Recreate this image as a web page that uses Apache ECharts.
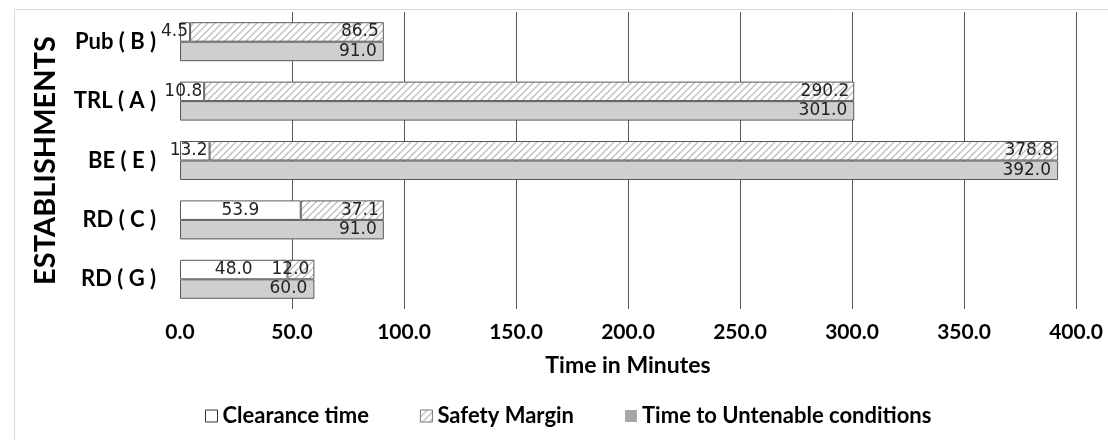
<!DOCTYPE html>
<html>
<head>
<meta charset="utf-8">
<script src="https://cdn.jsdelivr.net/npm/echarts@6/dist/echarts.min.js"></script>
<style>
  html, body { margin: 0; padding: 0; background: #fff; }
  #chart { width: 1108px; height: 440px; }
</style>
</head>
<body>
<div id="chart"></div>
<script>
// categories, top to bottom
const establishments = ['Pub ( B )', 'TRL ( A )', 'BE ( E )', 'RD ( C )', 'RD ( G )']
const clearanceTime = [4.5, 10.8, 13.2, 53.9, 48.0]
const safetyMargin = [86.5, 290.2, 378.8, 37.1, 12.0]
const untenableTime = [91.0, 301.0, 392.0, 91.0, 60.0]
const xTicks = { min: 0, max: 400, step: 50 }

const FONT = 'Lato, "Open Sans", sans-serif'
const LABEL_FONT = '"DejaVu Sans", Verdana, sans-serif'
const EDGE = '#595959'

// diagonal hatch for the safety margin bars
function hatch() {
  const s = 7
  const c = document.createElement('canvas')
  c.width = s
  c.height = s
  const ctx = c.getContext('2d')
  ctx.fillStyle = '#fff'
  ctx.fillRect(0, 0, s, s)
  ctx.strokeStyle = '#bdbdbd'
  ctx.lineWidth = 1.3
  ctx.beginPath()
  ctx.moveTo(-1, s + 1); ctx.lineTo(s + 1, -1)
  ctx.moveTo(-1, 1); ctx.lineTo(1, -1)
  ctx.moveTo(s - 1, s + 1); ctx.lineTo(s + 1, s - 1)
  ctx.stroke()
  return c
}
const hatchFill = { image: hatch(), repeat: 'repeat' }

const fmt = p => Number(p.value).toFixed(1)
const labelBase = {
  show: true,
  formatter: fmt,
  fontFamily: LABEL_FONT,
  fontSize: 17,
  color: '#222'
}

const chart = echarts.init(document.getElementById('chart'), null, { renderer: 'canvas' })

chart.setOption({
  animation: false,
  backgroundColor: '#fff',
  graphic: [{
    type: 'rect',
    left: 12, top: 7,
    shape: { width: 1200, height: 600 },
    style: { fill: 'none', stroke: '#d9d9d9', lineWidth: 1 },
    silent: true
  }],
  grid: { left: 180, right: 32, top: 12, bottom: 131 },
  legend: {
    top: 400,
    left: 200,
    icon: 'rect',
    itemWidth: 12,
    itemHeight: 12,
    itemGap: 51,
    textStyle: { fontFamily: FONT, fontWeight: 'bold', fontSize: 22, color: '#000' },
    data: [
      { name: 'Clearance time', itemStyle: { color: '#fff', borderColor: '#333', borderWidth: 1 } },
      { name: 'Safety Margin', itemStyle: { color: hatchFill, borderColor: '#777', borderWidth: 1 } },
      { name: 'Time to Untenable conditions', itemStyle: { color: '#a6a6a6', borderWidth: 0 } }
    ]
  },
  xAxis: {
    type: 'value',
    min: xTicks.min,
    max: xTicks.max,
    interval: xTicks.step,
    name: 'Time in Minutes',
    nameLocation: 'middle',
    nameGap: 45,
    nameTextStyle: { fontFamily: FONT, fontWeight: 'bold', fontSize: 23, color: '#000' },
    axisLine: { show: false },
    axisTick: { show: false },
    axisLabel: {
      margin: 13,
      formatter: v => v.toFixed(1),
      fontFamily: FONT, fontWeight: 'bold', fontSize: 21, color: '#000'
    },
    splitLine: { show: true, showMinLine: false, lineStyle: { color: EDGE, width: 1 } }
  },
  yAxis: {
    type: 'category',
    inverse: true,
    data: establishments,
    name: 'ESTABLISHMENTS',
    nameLocation: 'middle',
    nameGap: 120,
    nameTextStyle: { fontFamily: FONT, fontWeight: 'bold', fontSize: 29, color: '#000' },
    axisLine: { show: false },
    axisTick: { show: false },
    axisLabel: {
      margin: 24,
      padding: [0, 0, 18, 0],
      fontFamily: FONT, fontWeight: 'bold', fontSize: 22, color: '#000'
    }
  },
  series: [
    {
      name: 'Clearance time',
      type: 'bar',
      stack: 'evac',
      barWidth: 19.5,
      barGap: '0%',
      itemStyle: { color: '#fff', borderColor: EDGE, borderWidth: 1 },
      label: Object.assign({}, labelBase, { position: 'inside' }),
      data: clearanceTime.map(v => v < 20
        ? { value: v, label: { position: 'insideRight', distance: 2 } }
        : v)
    },
    {
      name: 'Safety Margin',
      type: 'bar',
      stack: 'evac',
      barWidth: 19.5,
      barGap: '0%',
      itemStyle: { color: hatchFill, borderColor: EDGE, borderWidth: 1 },
      label: Object.assign({}, labelBase, { position: 'insideRight', distance: 5 }),
      data: safetyMargin
    },
    {
      name: 'Time to Untenable conditions',
      type: 'bar',
      barWidth: 19.5,
      barGap: '0%',
      itemStyle: { color: '#d0cece', borderColor: EDGE, borderWidth: 1 },
      label: Object.assign({}, labelBase, { position: 'insideRight', distance: 7 }),
      data: untenableTime
    }
  ]
})
</script>
</body>
</html>
